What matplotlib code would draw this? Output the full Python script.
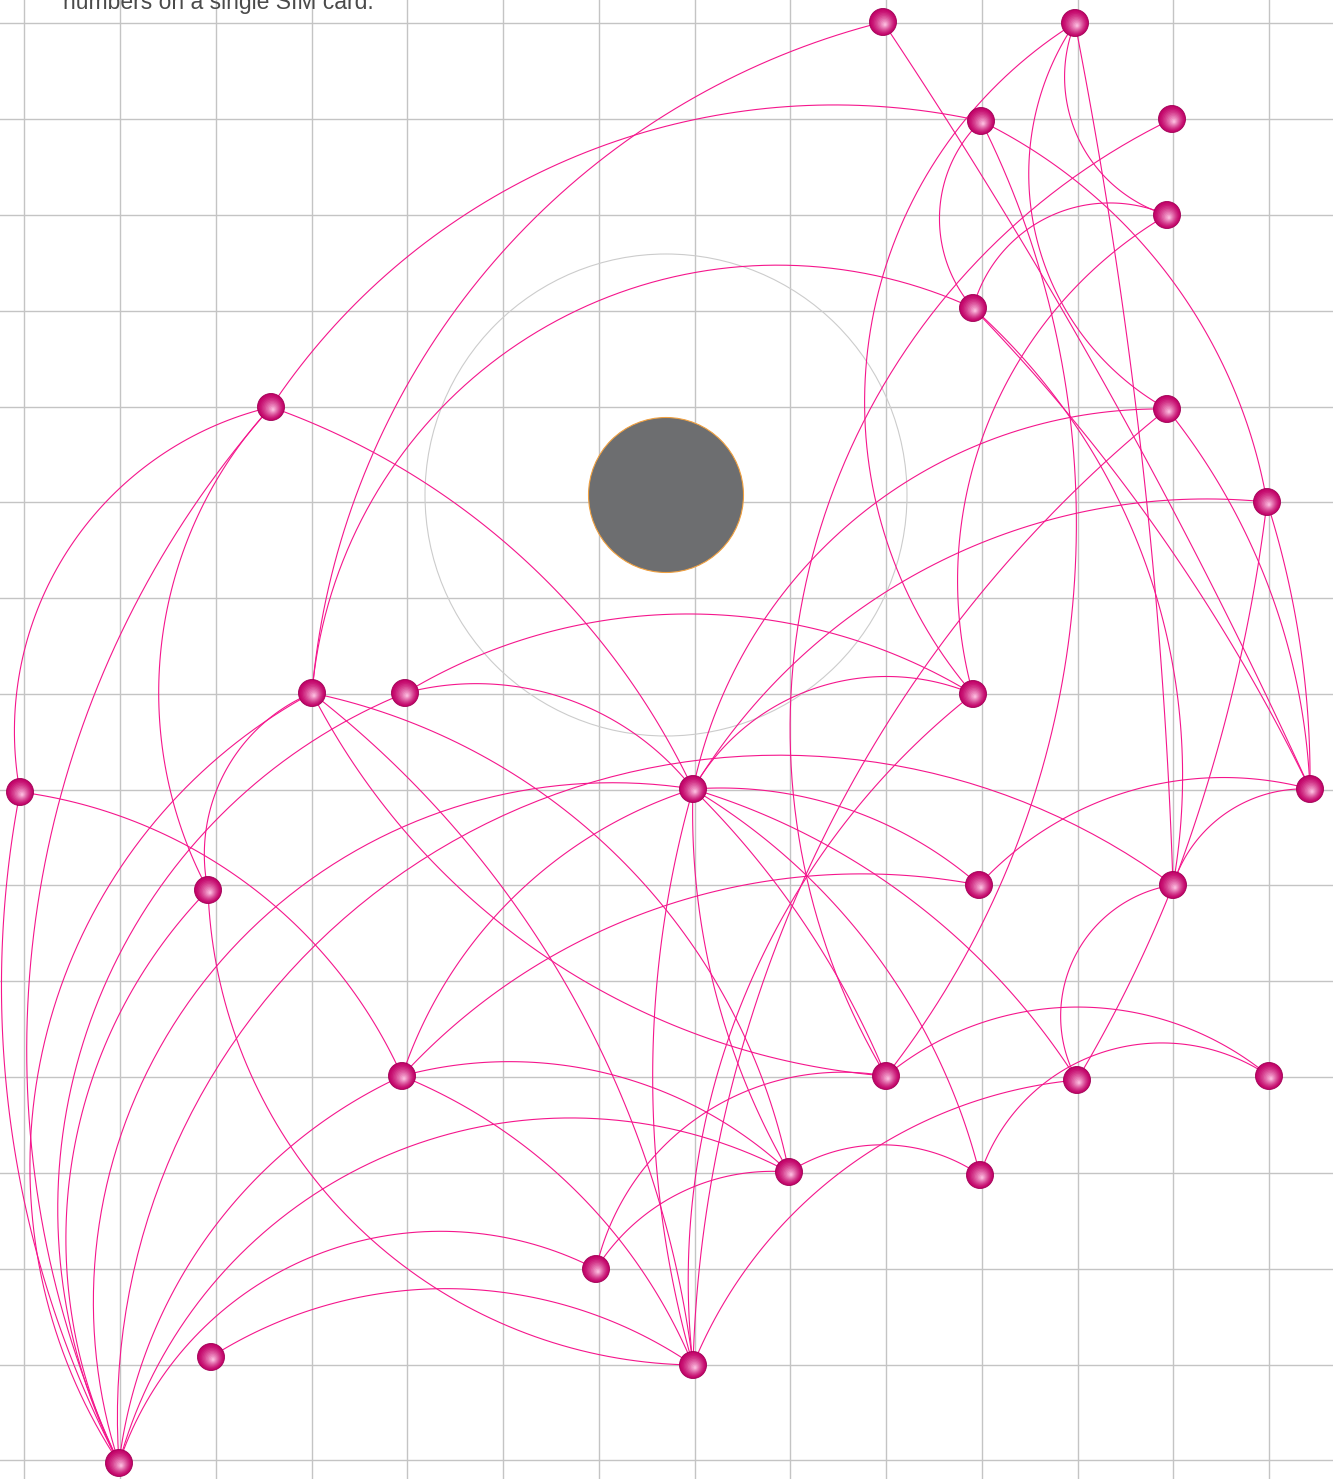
import numpy as np
import matplotlib
matplotlib.use("Agg")
import matplotlib.pyplot as plt
from matplotlib.patches import Circle

# ---- data ----
node_names = ["A","B","C","D","E","F","G","H","I","J","K","L","M","N","O",
              "P","Q","R","S","T","U","V","W","X","Y","Z","AA","AB"]
node_x = [883,1075,981,1172,1167,973,271,1167,1267,312,405,973,20,693,1310,
          208,979,1173,402,886,1077,1269,789,980,596,211,693,119]
node_y = [22,23,121,119,215,308,407,409,502,693,693,694,792,789,789,
          890,885,885,1076,1076,1080,1076,1172,1175,1269,1357,1365,1463]

edge_src = ["G","J","A","M","AB","P","G","W","L","H","E","B","F","C","C","T",
            "F","F","F","L","J","N","AA","H","N","I","I","P","AB","J","J","T",
            "K","K","AB","AB","M","AB","AA","N","N","N","N","N","S","AB","AB",
            "AA","AA","S","S","S","AB","Y","T","W","Y","AB","AB","Z","AA","X",
            "R","U","R","Q"]
edge_dst = ["C","A","O","G","G","G","N","N","B","B","B","R","C","I","T","D",
            "E","O","R","E","F","H","H","O","I","R","O","J","J","W","AA","J",
            "N","L","K","M","S","P","P","L","Q","U","T","X","N","N","R",
            "N","L","Q","W","AA","S","T","V","X","W","Y","W","AA","U","V",
            "O","R","U","O"]
edge_bend = [0.155,0.16,0.02,0.20,0.15,0.16,0.10,0.07,0.23,0.22,0.22,0.02,0.20,0.12,0.145,0.22,
             0.23,0.04,0.13,0.17,0.26,0.18,0.11,0.08,0.145,0.03,0.04,0.18,0.22,0.15,0.10,0.13,
             0.15,0.14,0.22,0.085,0.13,0.16,0.20,0.19,0.10,0.09,0.05,0.10,0.12,0.28,0.32,
             0.07,0.13,0.13,0.13,0.10,0.13,0.20,0.18,0.15,0.14,0.23,0.24,0.15,0.14,0.25,
             0.17,0.26,0.02,0.14]

caption = "numbers on a single SIM card."

# ---- figure ----
W, H = 1333, 1479
fig = plt.figure(figsize=(W/100, H/100), dpi=100)
ax = fig.add_axes([0, 0, 1, 1])
ax.set_xlim(0, W)
ax.set_ylim(H, 0)
ax.axis("off")

# grid
for gx in np.arange(24.3, W, 95.75):
    ax.axvline(gx, color="#c4c4c4", lw=1.0, zorder=0)
for gy in np.arange(23.3, H, 95.8):
    ax.axhline(gy, color="#c4c4c4", lw=1.0, zorder=0)

# ring and centre disc
ax.add_patch(Circle((666, 495), 241, fill=False, ec="#cccccc", lw=0.8, zorder=1))
ax.add_patch(Circle((666, 495), 77.5, fc="#6d6e70", ec="#f0a040", lw=0.8, zorder=1))

pos = {n: (x, y) for n, x, y in zip(node_names, node_x, node_y)}

def arc_points(p0, p1, h, n=80):
    p0 = np.array(p0, float); p1 = np.array(p1, float)
    d = np.linalg.norm(p1 - p0)
    if abs(h) < 1e-4:
        return np.vstack([p0, p1])
    t = (p1 - p0) / d
    nrm = np.array([t[1], -t[0]])
    m = (p0 + p1) / 2
    s = h * d
    R = (s * s + (d / 2) ** 2) / (2 * s)
    c = m + nrm * (s - R)
    apex = m + nrm * s
    aa = np.arctan2(*(apex - c)[::-1])
    alpha = np.arctan2(d / 2, R - s)
    taus = np.linspace(-alpha, alpha, n)
    pts = np.column_stack([c[0] + R * np.cos(aa + taus), c[1] + R * np.sin(aa + taus)])
    return pts

for s_, d_, b_ in zip(edge_src, edge_dst, edge_bend):
    pts = arc_points(pos[s_], pos[d_], b_)
    ax.plot(pts[:, 0], pts[:, 1], color="#f5168c", lw=0.8, zorder=2,
            solid_capstyle="round")

# nodes: shaded spheres
r0 = 13.5
layers = 10
c_dark = np.array([0.76, 0.01, 0.41])
c_light = np.array([0.98, 0.72, 0.86])
for x, y in zip(node_x, node_y):
    ax.add_patch(Circle((x, y), r0, fc=c_dark, ec="#a00055", lw=0.6, zorder=3))
    for i in range(1, layers + 1):
        f = i / layers
        rad = r0 * (1 - 0.9 * f)
        col = c_dark + (c_light - c_dark) * f ** 1.3
        ax.add_patch(Circle((x + 2.0 * f, y + 2.5 * f), rad, fc=col, ec="none", zorder=3))

ax.text(63, 9, caption, fontsize=16.5, color="#4a4a4a", family="Liberation Sans",
        va="baseline", ha="left", zorder=4)

fig.savefig("out.png", dpi=100)
